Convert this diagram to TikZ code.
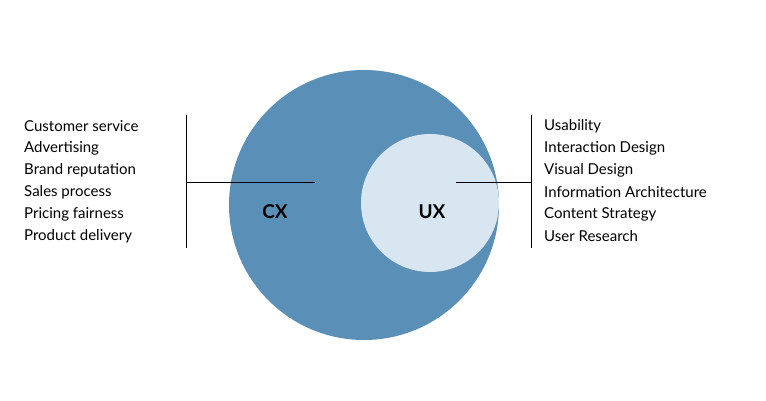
\documentclass[tikz,border=0pt]{standalone}
\usepackage{fontspec}
\setmainfont{Lato}
\usetikzlibrary{positioning}
\definecolor{cxblue}{HTML}{5A8FB7}
\definecolor{uxblue}{HTML}{D7E6F1}
\tikzstyle{item}=[anchor=west,inner sep=0pt,font=\fontsize{15}{18}\selectfont]
\tikzstyle{label}=[inner sep=0pt,font=\fontsize{19}{22}\selectfont\bfseries]
\tikzstyle{bar}=[draw=black,line width=0.9pt]

\begin{document}
\begin{tikzpicture}[x=1pt,y=-1pt]
	\useasboundingbox (0,0) rectangle (766,401);
	% circles
	\fill [cxblue] (364,205) circle (135);
	\fill [uxblue] (430,203) circle (69);
	\node [style=label] (cx) at (275,212) {CX};
	\node [style=label] (ux) at (432,212) {UX};
	% left list
	\foreach \t [count=\i] in {Customer service,Advertising,Brand reputation,Sales process,Pricing fairness,Product delivery}
		\node [style=item] (l\i) at (24,104+22*\i) {\t};
	% right list
	\foreach \t [count=\i] in {Usability,Interaction Design,Visual Design,Information Architecture,Content Strategy,User Research}
		\node [style=item] (r\i) at (544,104+22*\i) {\t};
	% brackets
	\coordinate (lt) at (186,115);
	\coordinate (lb) at (186,248);
	\coordinate (lm) at (186,182);
	\coordinate (lc) at (315,182);
	\coordinate (rt) at (531,115);
	\coordinate (rb) at (531,248);
	\coordinate (rm) at (531,182);
	\coordinate (rc) at (456,182);
	\draw [style=bar] (lt) -- (lb);
	\draw [style=bar] (lm) -- (lc);
	\draw [style=bar] (rt) -- (rb);
	\draw [style=bar] (rm) -- (rc);
\end{tikzpicture}
\end{document}
